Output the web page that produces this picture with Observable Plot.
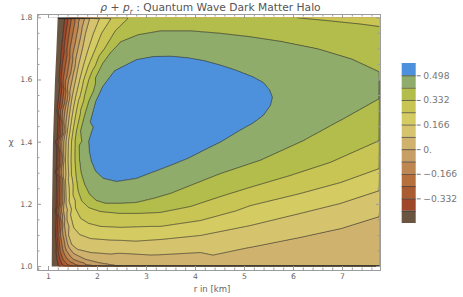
<!DOCTYPE html>
<html><head><meta charset="utf-8">
<script src="https://cdn.jsdelivr.net/npm/d3@7"></script>
<script src="https://cdn.jsdelivr.net/npm/@observablehq/plot@0.6"></script>
<style>
html,body{margin:0;padding:0;background:#fff;}
#wrap{position:relative;width:463px;height:297px;overflow:hidden;background:#fff;}
#wrap svg{position:absolute;}
</style></head><body><div id="wrap"></div>
<script>
// ---------------- data ----------------
const levels = [-0.415, -0.332, -0.249, -0.166, -0.083, 0, 0.083, 0.166, 0.249, 0.332, 0.415, 0.498];
const bandColors = ["#6a5540", "#9e472b", "#ab5b31", "#b5703e", "#be8751", "#c79e63", "#cfb26d",
                    "#d6c36e", "#d5cb63", "#c8c554", "#b3bd4b", "#8fac6b", "#4d90db"];
const legendLabels = [0.498, 0.332, 0.166, 0, -0.166, -0.332];
const legendExtent = [-0.498, 0.581];
const xTicks = [1, 2, 3, 4, 5, 6, 7];
const yTicks = [1.0, 1.2, 1.4, 1.6, 1.8];
const titleText = "ρ + pr : Quantum Wave Dark Matter Halo";
const xLabel = "r in [km]";
const yLabel = "χ";

// left boundary of the region where the function is defined, and its value there
const edgeValue = -0.6;
const edgeLine = [[1.198,1.8],[1.173,1.701],[1.143,1.598],[1.122,1.502],[1.102,1.402],[1.092,1.302],[1.082,1.180],[1.078,1.084],[1.071,1.0]];

// contour lines: [r, chi]
const lineM0415 = [[1.333,1.8],[1.265,1.701],[1.214,1.598],[1.173,1.502],[1.143,1.402],[1.133,1.302],[1.133,1.180],[1.143,1.100],[1.153,1.051],[1.173,1.023],[1.194,1.006],[1.214,1.0]];
const lineM0332 = [[1.402,1.8],[1.316,1.701],[1.255,1.598],[1.204,1.502],[1.173,1.402],[1.163,1.302],[1.163,1.180],[1.173,1.100],[1.194,1.051],[1.235,1.023],[1.286,1.006],[1.337,1.0]];
const lineM0249 = [[1.469,1.8],[1.378,1.701],[1.296,1.598],[1.245,1.502],[1.204,1.402],[1.194,1.302],[1.194,1.180],[1.204,1.100],[1.235,1.051],[1.296,1.023],[1.388,1.006],[1.490,1.0]];
const lineM0166 = [[1.537,1.8],[1.439,1.701],[1.347,1.598],[1.286,1.502],[1.235,1.402],[1.224,1.302],[1.229,1.180],[1.245,1.100],[1.296,1.051],[1.388,1.023],[1.551,1.006],[1.714,1.0]];
const lineM0083 = [[1.639,1.8],[1.520,1.701],[1.408,1.598],[1.337,1.502],[1.271,1.402],[1.259,1.302],[1.265,1.180],[1.296,1.100],[1.367,1.051],[1.510,1.023],[1.755,1.006],[2.061,1.0]];
const line0000 = [[1.741,1.8],[1.602,1.701],[1.480,1.598],[1.388,1.502],[1.312,1.402],[1.300,1.302],[1.306,1.180],[1.327,1.132],[1.388,1.074],[1.510,1.042],[1.755,1.023],[2.061,1.011],[2.367,1.003],[2.571,1.0]];
const line0083 = [[1.843,1.8],[1.755,1.750],[1.694,1.701],[1.612,1.647],[1.551,1.598],[1.480,1.544],[1.439,1.502],[1.388,1.437],[1.357,1.402],[1.347,1.341],[1.347,1.277],[1.357,1.212],[1.378,1.148],[1.408,1.100],[1.469,1.071],[1.592,1.055],[1.857,1.045],[2.265,1.040],[3.082,1.037],[4.102,1.045],[5.122,1.062],[6.143,1.094],[6.959,1.122],[7.75,1.161]];
const line0166 = [[2.047,1.8],[1.918,1.750],[1.816,1.701],[1.714,1.647],[1.633,1.598],[1.551,1.544],[1.500,1.502],[1.439,1.437],[1.408,1.402],[1.398,1.341],[1.404,1.277],[1.418,1.212],[1.449,1.165],[1.510,1.126],[1.633,1.103],[1.857,1.090],[2.265,1.085],[3.286,1.087],[4.102,1.100],[5.122,1.132],[6.143,1.171],[6.959,1.203],[7.75,1.244]];
const line0249 = [[2.286,1.8],[2.082,1.750],[1.959,1.701],[1.816,1.647],[1.714,1.598],[1.612,1.534],[1.571,1.502],[1.500,1.437],[1.469,1.402],[1.459,1.341],[1.469,1.293],[1.500,1.229],[1.551,1.187],[1.653,1.155],[1.816,1.139],[2.061,1.129],[2.469,1.126],[3.286,1.129],[4.102,1.148],[5.122,1.196],[6.143,1.235],[6.959,1.270],[7.75,1.315]];
const line0332a = [[6.082,1.8],[6.755,1.790],[7.367,1.780],[7.75,1.772]];
const line0332b = [[2.633,1.8],[2.367,1.759],[2.143,1.701],[1.959,1.647],[1.816,1.598],[1.735,1.550],[1.653,1.502],[1.571,1.437],[1.541,1.402],[1.541,1.341],[1.561,1.293],[1.602,1.244],[1.673,1.212],[1.816,1.190],[2.061,1.177],[2.469,1.171],[2.878,1.171],[3.286,1.174],[3.898,1.193],[4.510,1.225],[5.122,1.255],[5.939,1.293],[6.755,1.335],[7.75,1.405]];
const line0415 = [[7.75,1.626],[7.163,1.669],[6.490,1.701],[5.796,1.723],[5.122,1.739],[4.510,1.750],[3.898,1.758],[3.286,1.758],[2.816,1.745],[2.469,1.723],[2.265,1.688],[2.102,1.653],[1.959,1.608],[1.827,1.534],[1.735,1.486],[1.653,1.437],[1.622,1.389],[1.633,1.341],[1.663,1.302],[1.735,1.264],[1.837,1.232],[1.980,1.212],[2.163,1.203],[2.469,1.203],[2.796,1.206],[3.143,1.219],[3.490,1.235],[3.837,1.257],[4.510,1.299],[5.327,1.342],[6.204,1.405],[6.959,1.470],[7.75,1.540]];
const line0498 = [[1.816,1.402],[1.847,1.466],[1.959,1.531],[2.102,1.579],[2.347,1.630],[2.796,1.666],[3.143,1.676],[3.490,1.677],[3.837,1.672],[4.163,1.663],[4.510,1.648],[4.857,1.630],[5.184,1.610],[5.388,1.592],[5.510,1.569],[5.571,1.544],[5.531,1.518],[5.388,1.486],[5.184,1.462],[4.857,1.433],[4.510,1.400],[4.163,1.373],[3.837,1.347],[3.490,1.325],[3.143,1.304],[2.796,1.283],[2.388,1.273],[2.122,1.283],[1.959,1.306],[1.867,1.341],[1.827,1.373]];

// values estimated between the lines: [r, chi, value]
const anchors = [
  [3.5,1.50,0.56],[2.6,1.45,0.545],[4.6,1.55,0.53],[2.3,1.55,0.53],
  [5.35,1.545,0.505],[4.9,1.55,0.515],[2.02,1.34,0.51],[1.95,1.45,0.51],[2.15,1.3,0.505],
  [3.5,1.64,0.515],[2.6,1.62,0.515],[4.4,1.62,0.515],[3.4,1.35,0.51],[4.4,1.44,0.51],[2.5,1.31,0.51],
  [3.3,1.8,0.375],[4.5,1.8,0.38],[5.5,1.8,0.36],[7.75,1.8,0.31],
  [7.75,1.70,0.385],[7.75,1.583,0.445],[6.5,1.575,0.455],[7.75,1.47,0.37],
  [7.75,1.36,0.29],[7.75,1.28,0.21],[7.75,1.20,0.125],[7.75,1.08,0.06],[7.75,1.0,0.045],
  [6.0,1.0,0.04],[4.5,1.0,0.035],[3.2,1.0,0.02]
];

// ---------------- build table ----------------
const traced = [
  [levels[0], lineM0415], [levels[1], lineM0332], [levels[2], lineM0249], [levels[3], lineM0166],
  [levels[4], lineM0083], [levels[5], line0000], [levels[6], line0083], [levels[7], line0166],
  [levels[8], line0249], [levels[9], line0332a], [levels[9], line0332b], [levels[10], line0415],
  [levels[11], line0498]
];
const pts = [];
for (const [v, line] of traced) for (const [r, chi] of line) pts.push({r, chi, v});
for (const [r, chi] of edgeLine) pts.push({r, chi, v: edgeValue});
for (const [r, chi, v] of anchors) pts.push({r, chi, v});

const W = 463, H = 297, mL = 37, mR = 83, mT = 14, mB = 27;
const FW = W - mL - mR, FH = H - mT - mB;
const xDomain = [0.7755, 7.7755], yDomain = [0.9872, 1.8106];
const dataR = [1.0, 7.75], dataChi = [1.0, 1.8];
const frameGray = "#9c9c9c", textGray = "#666";
const titleSize = 10.7;
const xMinor = d3.range(0.8, 7.75, 0.2).filter(v => Math.abs(v - Math.round(v)) > 1e-6);
const yMinor = d3.range(1.0, 1.801, 0.05).filter(v => Math.abs(v * 5 - Math.round(v * 5)) > 1e-6);

const main = Plot.plot({
  width: W, height: H, marginLeft: mL, marginRight: mR, marginTop: mT, marginBottom: mB,
  style: {fontFamily: "DejaVu Sans", background: "white"},
  x: {domain: xDomain},
  y: {domain: yDomain},
  color: {type: "threshold", domain: levels, range: bandColors},
  marks: [
    Plot.contour(pts, {x: "r", y: "chi", fill: "v", interpolate: "barycentric",
      thresholds: [-1, ...levels], x1: 1.06, x2: dataR[1], y1: dataChi[0], y2: dataChi[1], pixelSize: 1, stroke: "none"}),
    Plot.contour(pts, {x: "r", y: "chi", value: "v", interpolate: "barycentric",
      thresholds: levels, x1: 0.95, x2: 7.9, y1: 0.95, y2: 1.85, pixelSize: 1,
      fill: "none", stroke: "#2e2e2e", strokeWidth: 0.8, strokeOpacity: 0.85}),
    Plot.areaX(edgeLine, {y: d => d[1], x1: () => xDomain[0], x2: d => d[0], fill: "white"}),
    Plot.frame({stroke: frameGray}),
    Plot.tickX(xTicks, {x: d => d, stroke: frameGray, insetTop: FH - 4}),
    Plot.tickX(xTicks, {x: d => d, stroke: frameGray, insetBottom: FH - 4}),
    Plot.tickX(xMinor, {x: d => d, stroke: frameGray, insetTop: FH - 2.5}),
    Plot.tickX(xMinor, {x: d => d, stroke: frameGray, insetBottom: FH - 2.5}),
    Plot.tickY(yTicks, {y: d => d, stroke: frameGray, insetRight: FW - 4}),
    Plot.tickY(yTicks, {y: d => d, stroke: frameGray, insetLeft: FW - 4}),
    Plot.tickY(yMinor, {y: d => d, stroke: frameGray, insetRight: FW - 2.5}),
    Plot.tickY(yMinor, {y: d => d, stroke: frameGray, insetLeft: FW - 2.5}),
    Plot.axisX({ticks: xTicks, tickSize: 0, tickPadding: 3, tickFormat: d => String(d), fontSize: 7.7, color: textGray, label: null}),
    Plot.axisY({ticks: yTicks, tickSize: 0, tickPadding: 5, tickFormat: d3.format(".1f"), fontSize: 7.7, color: textGray, label: null}),
    Plot.text([xLabel], {frameAnchor: "bottom", dy: 21, dx: 3, fontSize: 8.5, fill: textGray}),
    Plot.text([yLabel], {frameAnchor: "left", dx: -29, fontSize: 9, fill: textGray}),
    Plot.text([titleText], {frameAnchor: "top", dy: -3.5, dx: 1.5, lineAnchor: "bottom", fontSize: titleSize, fill: "#555"})
  ]
});

// clip the contour lines to the data rectangle
(function () {
  const sx = main.scale("x"), sy = main.scale("y");
  const ax = v => sx.apply ? sx.apply(v) : sx.range[0] + (v - sx.domain[0]) / (sx.domain[1] - sx.domain[0]) * (sx.range[1] - sx.range[0]);
  const ay = v => sy.apply ? sy.apply(v) : sy.range[0] + (v - sy.domain[0]) / (sy.domain[1] - sy.domain[0]) * (sy.range[1] - sy.range[0]);
  const ns = "http://www.w3.org/2000/svg";
  const defs = document.createElementNS(ns, "defs");
  const cp = document.createElementNS(ns, "clipPath");
  cp.setAttribute("id", "dataClip");
  const rect = document.createElementNS(ns, "rect");
  const x0 = ax(dataR[0]), x1 = ax(dataR[1]), y0 = ay(dataChi[1]), y1 = ay(dataChi[0]);
  rect.setAttribute("x", Math.min(x0, x1)); rect.setAttribute("y", Math.min(y0, y1));
  rect.setAttribute("width", Math.abs(x1 - x0)); rect.setAttribute("height", Math.abs(y1 - y0));
  cp.appendChild(rect); defs.appendChild(cp); main.insertBefore(defs, main.firstChild);
  const gs = main.querySelectorAll('g[aria-label="contour"]');
  if (gs.length > 1) gs[1].setAttribute("clip-path", "url(#dataClip)");
  // title with italic symbols and subscript
  for (const t of main.querySelectorAll("text")) {
    if (t.textContent === titleText) {
      t.textContent = "";
      const parts = [["ρ", true, 0, 1], [" + ", false, 0, 1], ["p", true, 0, 1], ["r", true, 2.5, 0.72], [" : Quantum Wave Dark Matter Halo", false, -2.5, 1]];
      for (const [s, it, dy, fs] of parts) {
        const sp = document.createElementNS(ns, "tspan");
        sp.textContent = s;
        if (it) sp.setAttribute("font-style", "italic");
        if (dy) sp.setAttribute("dy", dy);
        if (fs !== 1) sp.setAttribute("font-size", (titleSize * fs) + "px");
        t.appendChild(sp);
      }
    }
  }
})();

// ---------------- legend ----------------
const bands = bandColors.map((c, i) => ({
  lo: i === 0 ? legendExtent[0] : levels[i - 1],
  hi: i === levels.length ? legendExtent[1] : levels[i]
}));
const legend = Plot.plot({
  width: 68, height: 180, marginLeft: 6.7, marginRight: 47.3, marginTop: 8, marginBottom: 12,
  style: {fontFamily: "DejaVu Sans", background: "transparent"},
  x: {domain: [0, 1], axis: null},
  y: {domain: legendExtent, axis: null},
  color: {type: "threshold", domain: levels, range: bandColors},
  marks: [
    Plot.rect(bands, {x1: () => 0, x2: () => 1, y1: "lo", y2: "hi", fill: "lo"}),
    Plot.ruleY(levels, {stroke: "#3a3a3a", strokeWidth: 0.7}),
    Plot.axisY({anchor: "right", ticks: legendLabels, tickSize: 4, tickPadding: 3, fontSize: 9.2, color: "#777", label: null,
      tickFormat: d => d === 0 ? "0." : (d < 0 ? "\u2212" : "") + Math.abs(d).toFixed(3)})
  ]
});
legend.style.left = "395px";
legend.style.top = "55px";
main.style.left = "0px";
main.style.top = "0px";
const wrap = document.getElementById("wrap");
wrap.appendChild(main);
wrap.appendChild(legend);
</script></body></html>
